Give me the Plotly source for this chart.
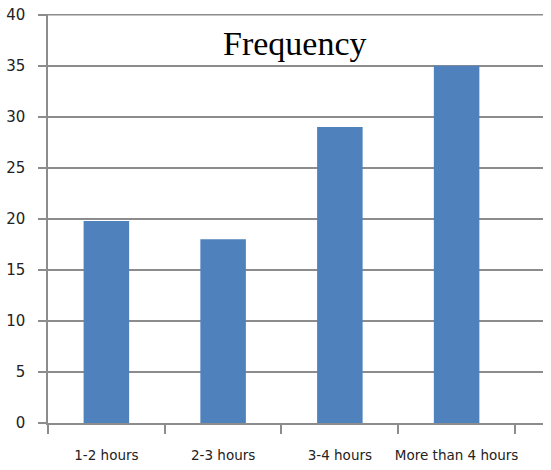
import plotly.graph_objects as go

categories = ["1-2 hours", "2-3 hours", "3-4 hours", "More than 4 hours"]
frequency = [19.8, 18, 29, 35]
y_ticks = [0, 5, 10, 15, 20, 25, 30, 35, 40]

W, H = 551, 470
L, R, T, B = 48, 8, 14, 47
PH = H - T - B
GRID = "#8c8c8c"

fig = go.Figure(go.Bar(x=categories, y=frequency, marker_color="#4F81BD",
                       marker_line_width=0))

fig.update_layout(
    width=W, height=H,
    margin=dict(l=L, r=R, t=T, b=B, autoexpand=False),
    paper_bgcolor="white", plot_bgcolor="white",
    bargap=0.61,
    showlegend=False,
    annotations=[dict(text="Frequency", xref="paper", yref="paper",
                      x=(295 - L) / (W - L - R), y=(PH - 29) / PH,
                      xanchor="center", yanchor="middle", showarrow=False,
                      font=dict(family="Liberation Serif", size=34, color="black"))],
    shapes=[dict(type="line", xref="paper", yref="y", x0=0, x1=1,
                 y0=y_ticks[-1], y1=y_ticks[-1], line=dict(color=GRID, width=1.5),
                 layer="below")],
)

fig.update_xaxes(
    type="category", range=[-0.5, 3.74], tickson="boundaries",
    showline=True, linecolor=GRID, linewidth=1.5,
    ticks="outside", ticklen=9, tickcolor=GRID, tickwidth=1.5,
    showgrid=False, tickangle=0, automargin=False,
    tickfont=dict(family="DejaVu Sans", size=13.5, color="#222"),
    ticklabelstandoff=19,
)
fig.update_yaxes(
    range=[0, 40.08], tickvals=y_ticks,
    showline=True, linecolor=GRID, linewidth=1.5,
    ticks="outside", ticklen=8, tickcolor=GRID, tickwidth=1.5,
    showgrid=True, gridcolor=GRID, gridwidth=1.5,
    zeroline=False, automargin=False, ticklabeloverflow="allow",
    tickfont=dict(family="DejaVu Sans", size=15, color="#222"),
    ticklabelstandoff=10,
)

fig.write_html("out.html", config={"displayModeBar": False},
               post_script="document.body.style.margin='0';")
